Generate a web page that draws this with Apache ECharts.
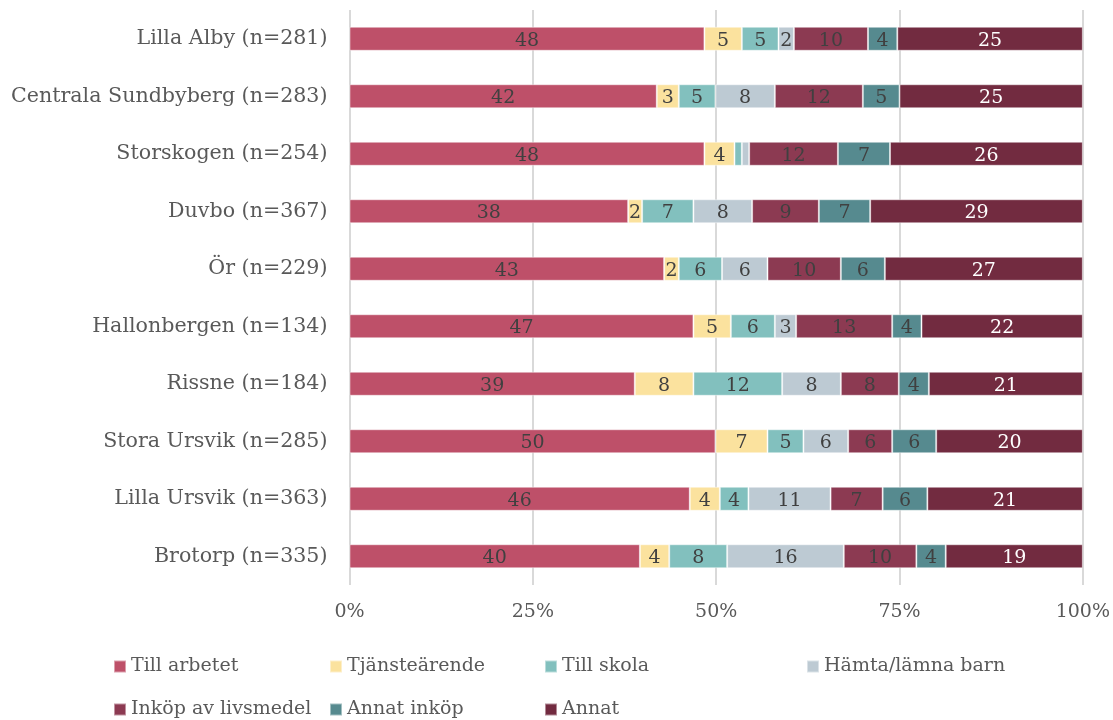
<!DOCTYPE html>
<html>
<head>
<meta charset="utf-8">
<script src="https://cdn.jsdelivr.net/npm/echarts@6/dist/echarts.min.js"></script>
<style>
html,body{margin:0;padding:0;background:#fff;}
#chart{width:1113px;height:720px;}
</style>
</head>
<body>
<div id="chart"></div>
<script>
const categories = [
  'Lilla Alby (n=281)', 'Centrala Sundbyberg (n=283)', 'Storskogen (n=254)',
  'Duvbo (n=367)', 'Ör (n=229)', 'Hallonbergen (n=134)', 'Rissne (n=184)',
  'Stora Ursvik (n=285)', 'Lilla Ursvik (n=363)', 'Brotorp (n=335)'
];
const seriesNames = ['Till arbetet', 'Tjänsteärende', 'Till skola', 'Hämta/lämna barn',
  'Inköp av livsmedel', 'Annat inköp', 'Annat'];
const tillArbetet     = [48.4, 41.9, 48.4, 38.0, 42.9, 46.9, 38.9, 49.9, 46.4, 39.6];
const tjansteArende   = [5.1, 3.0, 4.1, 1.9, 2.0, 5.1, 8.0, 7.1, 4.1, 4.0];
const tillSkola       = [5.0, 5.0, 1.0, 7.0, 5.9, 6.0, 12.1, 4.9, 3.9, 7.9];
const hamtaLamnaBarn  = [2.1, 8.1, 1.0, 8.0, 6.2, 2.9, 8.0, 6.1, 11.2, 15.9];
const inkopLivsmedel  = [10.1, 12.0, 12.1, 9.1, 10.0, 13.1, 7.9, 6.0, 7.1, 9.9];
const annatInkop      = [4.0, 5.0, 7.1, 7.0, 6.0, 4.0, 4.1, 6.0, 6.1, 4.0];
const annat           = [25.3, 25.0, 26.3, 29.0, 27.0, 22.0, 21.0, 20.0, 21.2, 18.7];
const xTicks = [0, 25, 50, 75, 100];

const seriesData = [tillArbetet, tjansteArende, tillSkola, hamtaLamnaBarn, inkopLivsmedel, annatInkop, annat];
const colors = ['#BE5069', '#FBE29E', '#82C0BE', '#BDCAD3', '#8C3A52', '#568A8F', '#722B40'];
const labelColors = ['#404040', '#404040', '#404040', '#404040', '#404040', '#404040', '#ffffff'];
const FONT = 'DejaVu Serif';

const chart = echarts.init(document.getElementById('chart'), null, {renderer: 'canvas'});

const legendPos = [
  [113, 657], [329, 657], [544, 657], [806, 657],
  [113, 700], [329, 700], [544, 700]
];

const option = {
  backgroundColor: '#ffffff',
  animation: false,
  color: colors,
  grid: {left: 349.5, right: 29.5, top: 10, height: 575, containLabel: false},
  legend: seriesNames.map((n, i) => ({
    data: [n], left: legendPos[i][0], top: legendPos[i][1],
    icon: 'rect', itemWidth: 12, itemHeight: 12, padding: 0,
    textStyle: {fontFamily: FONT, fontSize: 19, color: '#595959'},
    selectedMode: false
  })),
  xAxis: {
    type: 'value', min: 0, max: 100, interval: 25,
    axisLine: {show: false}, axisTick: {show: false},
    splitLine: {show: true, lineStyle: {color: '#D9D9D9', width: 2}},
    axisLabel: {formatter: v => xTicks.includes(v) ? v + '%' : '', fontFamily: FONT, fontSize: 19, color: '#595959', margin: 18}
  },
  yAxis: {
    type: 'category', data: categories, inverse: true,
    axisLine: {show: false}, axisTick: {show: false},
    axisLabel: {fontFamily: FONT, fontSize: 20.6, color: '#595959', margin: 22}
  },
  series: seriesNames.map((n, i) => ({
    name: n, type: 'bar', stack: 'total', barWidth: 24,
    data: seriesData[i],
    itemStyle: {color: colors[i], borderColor: 'rgba(255,255,255,0.45)', borderWidth: 1},
    label: {
      show: true, position: 'inside',
      formatter: p => p.value < 1.5 ? '' : String(Math.round(p.value)),
      fontFamily: FONT, fontSize: 19, color: labelColors[i], offset: [0, 2]
    }
  }))
};
chart.setOption(option);
</script>
</body>
</html>
